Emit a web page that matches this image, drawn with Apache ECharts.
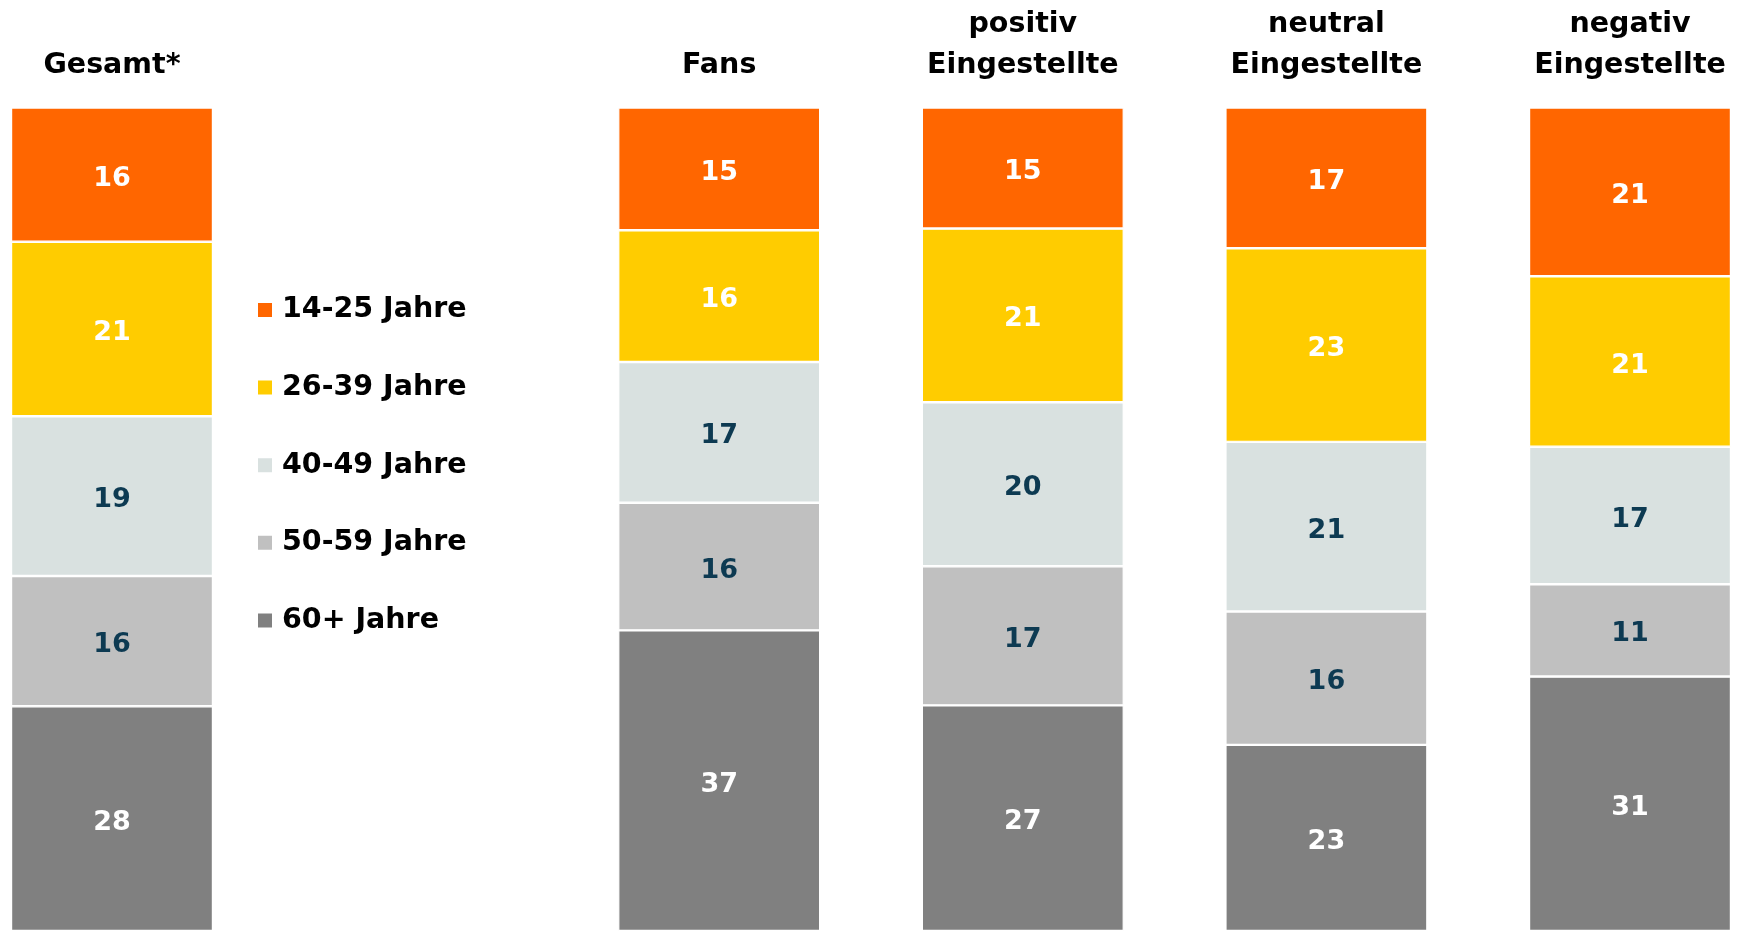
<!DOCTYPE html>
<html>
<head>
<meta charset="utf-8">
<script src="https://cdn.jsdelivr.net/npm/echarts@6/dist/echarts.min.js"></script>
<style>
html,body{margin:0;padding:0;background:#fff;}
#chart{width:1738px;height:931px;}
</style>
</head>
<body>
<div id="chart"></div>
<script>
const categories = ['Gesamt*', '', 'Fans', 'positiv\nEingestellte', 'neutral\nEingestellte', 'negativ\nEingestellte'];
const legendNames = ['14-25 Jahre', '26-39 Jahre', '40-49 Jahre', '50-59 Jahre', '60+ Jahre'];

// printed values (labels)
const label14_25 = [16, null, 15, 15, 17, 21];
const label26_39 = [21, null, 16, 21, 23, 21];
const label40_49 = [19, null, 17, 20, 21, 17];
const label50_59 = [16, null, 16, 17, 16, 11];
const label60plus = [28, null, 37, 27, 23, 31];

// shares (%)
const share14_25 = [16.3, null, 14.9, 14.7, 17.1, 20.5];
const share26_39 = [21.2, null, 16.0, 21.1, 23.5, 20.7];
const share40_49 = [19.4, null, 17.1, 19.9, 20.6, 16.7];
const share50_59 = [15.8, null, 15.5, 16.9, 16.2, 11.2];
const share60plus = [27.3, null, 36.5, 27.4, 22.6, 30.9];

const allLabels = [label14_25, label26_39, label40_49, label50_59, label60plus];
const allShares = [share14_25, share26_39, share40_49, share50_59, share60plus];
const colors = ['#FF6600', '#FFCC00', '#D9E1E0', '#C0C0C0', '#808080'];
const labelColors = ['#FFFFFF', '#FFFFFF', '#0D3A52', '#0D3A52', '#FFFFFF'];
const FONT = 'DejaVu Sans';

const totals = categories.map((c, i) => allShares.reduce((s, arr) => s + (arr[i] || 0), 0));

// stack from bottom (60+) to top (14-25)
const order = [4, 3, 2, 1, 0];
const series = order.map(si => ({
  name: legendNames[si],
  type: 'bar',
  stack: 'total',
  barWidth: 202,
  clip: false,
  data: allShares[si].map((v, i) => v == null ? null : { value: v / totals[i] * 100, raw: allLabels[si][i] }),
  itemStyle: { color: colors[si], borderColor: '#FFFFFF', borderWidth: 1.2 },
  label: {
    show: true,
    position: 'inside',
    offset: [0, 4],
    color: labelColors[si],
    fontFamily: FONT,
    fontWeight: 'bold',
    fontSize: 27,
    formatter: p => p.data && p.data.raw != null ? String(p.data.raw) : ''
  },
  emphasis: { disabled: true }
}));

const chart = echarts.init(document.getElementById('chart'));
chart.setOption({
  animation: false,
  backgroundColor: '#FFFFFF',
  legend: {
    orient: 'vertical',
    left: 251,
    top: 290,
    itemWidth: 16,
    itemHeight: 16,
    itemGap: 47.6,
    icon: 'rect',
    data: legendNames,
    textStyle: { fontFamily: FONT, fontWeight: 'bold', fontSize: 28.5, lineHeight: 30, color: '#000000', padding: [0, 0, 0, 4] }
  },
  grid: { left: 112, right: 108, top: 107.5, bottom: 0, containLabel: false },
  xAxis: {
    type: 'category',
    position: 'top',
    boundaryGap: false,
    data: categories,
    axisLine: { show: false },
    axisTick: { show: false },
    splitLine: { show: false },
    axisLabel: {
      interval: 0,
      margin: 21,
      fontFamily: FONT,
      fontWeight: 'bold',
      fontSize: 28.5,
      lineHeight: 41,
      color: '#000000'
    }
  },
  yAxis: {
    type: 'value',
    min: 0,
    max: 100,
    show: false
  },
  series: series
});
</script>
</body>
</html>
